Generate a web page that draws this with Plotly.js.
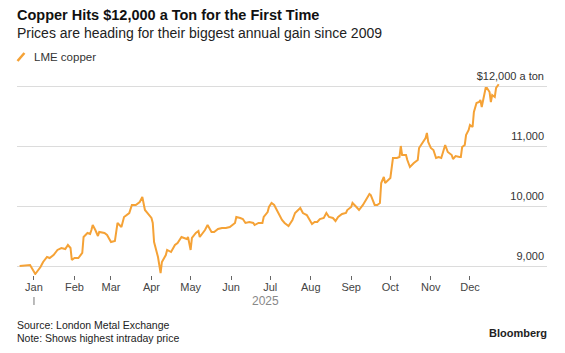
<!DOCTYPE html>
<html>
<head>
<meta charset="utf-8">
<script src="https://cdn.plot.ly/plotly-3.0.1.min.js"></script>
<style>
html,body{margin:0;padding:0;background:#fff;}
#chart{width:565px;height:353px;}
</style>
</head>
<body>
<div id="chart"></div>
<script>
// ---- data ----
const dates = [
 "2024-12-21","2024-12-29","2025-01-02","2025-01-06","2025-01-08","2025-01-11","2025-01-13","2025-01-16",
 "2025-01-19","2025-01-22","2025-01-25","2025-01-27","2025-01-29","2025-01-30","2025-02-01","2025-02-04",
 "2025-02-07","2025-02-08","2025-02-11","2025-02-13","2025-02-14","2025-02-15","2025-02-17","2025-02-19",
 "2025-02-20","2025-02-24","2025-02-26","2025-03-01","2025-03-04","2025-03-06","2025-03-09","2025-03-11",
 "2025-03-15","2025-03-17","2025-03-20","2025-03-23","2025-03-25","2025-03-27","2025-03-29","2025-04-01",
 "2025-04-02","2025-04-03","2025-04-06","2025-04-08","2025-04-09","2025-04-12","2025-04-13","2025-04-16",
 "2025-04-19","2025-04-21","2025-04-24","2025-04-28","2025-04-29","2025-05-01","2025-05-02","2025-05-05",
 "2025-05-07","2025-05-08","2025-05-12","2025-05-14","2025-05-17","2025-05-19","2025-05-22","2025-05-25",
 "2025-05-28","2025-05-31","2025-06-04","2025-06-05","2025-06-08","2025-06-10","2025-06-12","2025-06-15",
 "2025-06-18","2025-06-19","2025-06-22","2025-06-25","2025-06-26","2025-06-29","2025-06-30","2025-07-02",
 "2025-07-04","2025-07-07","2025-07-10","2025-07-12","2025-07-15","2025-07-18","2025-07-20","2025-07-24",
 "2025-07-26","2025-07-29","2025-07-31","2025-08-02","2025-08-04","2025-08-06","2025-08-08","2025-08-11",
 "2025-08-13","2025-08-15","2025-08-18","2025-08-20","2025-08-22","2025-08-25","2025-08-28","2025-08-29",
 "2025-09-01","2025-09-02","2025-09-05","2025-09-07","2025-09-10","2025-09-13","2025-09-15","2025-09-16",
 "2025-09-19","2025-09-21","2025-09-23","2025-09-24","2025-09-26","2025-09-27","2025-09-29","2025-10-01",
 "2025-10-03","2025-10-06","2025-10-08","2025-10-09","2025-10-10","2025-10-13","2025-10-14","2025-10-16",
 "2025-10-19","2025-10-22","2025-10-23","2025-10-26","2025-10-28","2025-10-29","2025-10-30","2025-11-01",
 "2025-11-03","2025-11-05","2025-11-07","2025-11-09","2025-11-11","2025-11-12","2025-11-14","2025-11-17",
 "2025-11-18","2025-11-20","2025-11-23","2025-11-24","2025-11-25","2025-11-27","2025-11-28","2025-11-30",
 "2025-12-01","2025-12-03","2025-12-04","2025-12-06","2025-12-08","2025-12-09","2025-12-10","2025-12-13",
 "2025-12-14","2025-12-16","2025-12-17","2025-12-18","2025-12-20","2025-12-21","2025-12-23"
];
const copper = [
 9000,9017,8867,8983,9067,9150,9133,9183,
 9267,9300,9283,9350,9300,9100,9133,9133,
 9217,9483,9550,9533,9600,9683,9600,9500,
 9567,9550,9517,9400,9417,9717,9650,9817,
 9883,10017,10017,10067,10150,9933,9883,9800,
 9717,9400,9150,8883,9067,9183,9267,9233,
 9350,9383,9483,9450,9483,9267,9467,9550,
 9583,9483,9600,9683,9567,9567,9617,9633,
 9633,9650,9717,9817,9800,9783,9717,9733,
 9717,9683,9717,9717,9817,9900,9983,10050,
 10017,9900,9767,9717,9667,9767,9883,9967,
 9883,9850,9767,9700,9733,9733,9783,9800,
 9883,9817,9800,9750,9817,9867,9883,9933,
 9983,10050,9983,9933,10017,10133,10200,10183,
 10017,10017,10050,10383,10483,10383,10433,10467,
 10800,10800,10817,11000,10850,10850,10767,10650,
 10717,10767,10967,11067,11133,11217,11067,10967,
 10933,10800,10817,10800,10933,11017,10900,10850,
 10783,10833,10817,10817,10983,11017,11183,11267,
 11350,11317,11567,11717,11733,11767,11650,11967,
 11967,11900,11733,11850,11817,11967,12030
];
const monthTicks = ["2025-01-01","2025-02-01","2025-03-01","2025-04-01","2025-05-01","2025-06-01",
                    "2025-07-01","2025-08-01","2025-09-01","2025-10-01","2025-11-01","2025-12-01"];
const monthLabels = ["Jan","Feb","Mar","Apr","May","Jun","Jul","Aug","Sep","Oct","Nov","Dec"];
const yTicks = [9000,10000,11000,12000];
const yLabels = ["9,000","10,000","11,000","$12,000 a ton"];
const seriesName = "LME copper";
const yearLabel = "2025";
const titleText = "Copper Hits $12,000 a Ton for the First Time";
const subtitleText = "Prices are heading for their biggest annual gain since 2009";

const ORANGE = "#F5A236";
const FONT = "Liberation Sans, Arial, sans-serif";

const trace = {
  type: "scatter", mode: "lines", x: dates, y: copper, name: seriesName,
  line: {color: ORANGE, width: 2, shape: "linear"}, hoverinfo: "skip", showlegend: false
};

const layout = {
  width: 565, height: 353,
  margin: {l: 17, r: 18, t: 68, b: 78},
  paper_bgcolor: "#fff", plot_bgcolor: "#fff",
  font: {family: FONT, color: "#333"},
  title: {
    text: titleText,
    font: {family: FONT, size: 14.5, color: "#111", weight: 700},
    x: 17/565, xref: "container", xanchor: "left",
    y: 1 - 15/353, yref: "container", yanchor: "middle"
  },
  showlegend: false,
  xaxis: {
    type: "date", range: ["2024-12-19", "2026-01-29"],
    tickvals: monthTicks, ticktext: monthLabels,
    ticks: "outside", ticklen: 4, tickwidth: 1, tickcolor: "#666",
    ticklabelstandoff: -2,
    tickfont: {family: FONT, size: 11, color: "#444"},
    showgrid: false, zeroline: false, showline: false, fixedrange: true
  },
  yaxis: {
    range: [8850, 12300], side: "right",
    tickvals: yTicks, ticktext: yLabels,
    ticks: "", ticklabelposition: "inside", ticklabelshift: -10,
    tickfont: {family: FONT, size: 11, color: "#333"},
    showgrid: true, gridcolor: "#dcdcdc", gridwidth: 1,
    zeroline: false, showline: false, fixedrange: true
  },
  shapes: [
    {type: "line", xref: "x", yref: "paper", x0: "2025-01-01", x1: "2025-01-01",
     y0: -0.1063, y1: -0.1449, line: {color: "#777", width: 1}},
    {type: "line", xref: "paper", yref: "paper", x0: 0.001, x1: 0.014,
     y0: 1.0338, y1: 1.0725, line: {color: ORANGE, width: 2.5}}
  ],
  annotations: [
    {text: subtitleText, xref: "paper", yref: "paper", x: -0.003, y: 1.1691,
     xanchor: "left", yanchor: "middle", showarrow: false,
     font: {family: FONT, size: 14, color: "#222"}},
    {text: seriesName, xref: "paper", yref: "paper", x: 0.0285, y: 1.0531,
     xanchor: "left", yanchor: "middle", showarrow: false,
     font: {family: FONT, size: 11.5, color: "#333"}},
    {text: yearLabel, xref: "x", yref: "paper", x: "2025-06-27", y: -0.1256,
     xanchor: "center", yanchor: "middle", showarrow: false,
     font: {family: FONT, size: 12, color: "#888"}},
    {text: "Source: London Metal Exchange", xref: "paper", yref: "paper", x: -0.003, y: -0.2415,
     xanchor: "left", yanchor: "middle", showarrow: false,
     font: {family: FONT, size: 10.5, color: "#222"}},
    {text: "Note: Shows highest intraday price", xref: "paper", yref: "paper", x: -0.003, y: -0.3043,
     xanchor: "left", yanchor: "middle", showarrow: false,
     font: {family: FONT, size: 10.5, color: "#222"}},
    {text: "Bloomberg", xref: "paper", yref: "paper", x: 1.003, y: -0.2802,
     xanchor: "right", yanchor: "middle", showarrow: false,
     font: {family: FONT, size: 11, color: "#222", weight: 700}}
  ]
};

Plotly.newPlot("chart", [trace], layout, {staticPlot: true, displayModeBar: false});
</script>
</body>
</html>
